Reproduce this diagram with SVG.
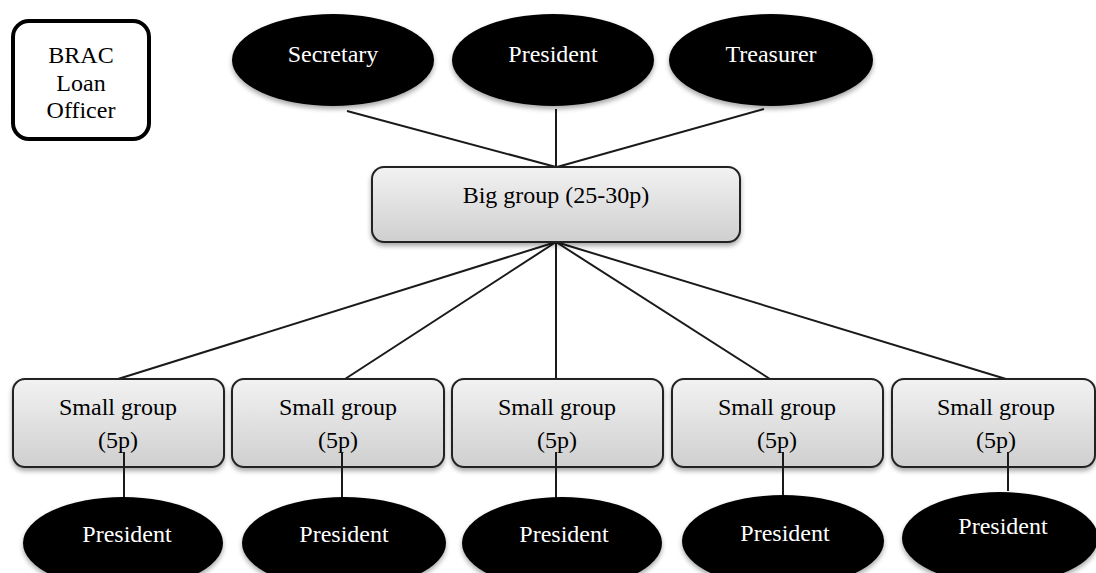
<svg xmlns="http://www.w3.org/2000/svg" width="1096" height="573" viewBox="0 0 1096 573">
<defs>
<linearGradient id="gbox" x1="0" y1="0" x2="0" y2="1">
<stop offset="0" stop-color="#f2f2f2"/>
<stop offset="1" stop-color="#cfcfcf"/>
</linearGradient>
<filter id="sh" x="-20%" y="-20%" width="140%" height="150%">
<feGaussianBlur in="SourceAlpha" stdDeviation="2.5"/>
<feOffset dx="0" dy="3" result="b"/>
<feComponentTransfer><feFuncA type="linear" slope="0.35"/></feComponentTransfer>
<feMerge><feMergeNode/><feMergeNode in="SourceGraphic"/></feMerge>
</filter>
</defs>
<style>
.ell{fill:#000;filter:url(#sh)}
.wt{fill:#fff;font-family:"Liberation Serif",serif;font-size:24px;text-anchor:middle}
.bt{fill:#000;font-family:"Liberation Serif",serif;font-size:24px;text-anchor:middle}
.box{fill:url(#gbox);stroke:#222;stroke-width:2;filter:url(#sh)}
.ln{stroke:#1a1a1a;stroke-width:2;fill:none}
</style>
<rect width="1096" height="573" fill="#fff"/>
<g id="brac">
<rect x="13" y="21" width="136" height="118" rx="16" fill="#fff" stroke="#000" stroke-width="4"/>
<text class="bt" x="81" y="63">BRAC</text>
<text class="bt" x="81" y="91">Loan</text>
<text class="bt" x="81" y="118">Officer</text>
</g>
<g id="connectors">
<line class="ln" x1="347" y1="111" x2="556" y2="167"/>
<line class="ln" x1="556" y1="109" x2="556" y2="167"/>
<line class="ln" x1="764" y1="109" x2="557" y2="167"/>
<line class="ln" x1="556" y1="242" x2="118" y2="379"/>
<line class="ln" x1="556" y1="242" x2="345" y2="379"/>
<line class="ln" x1="556" y1="242" x2="556" y2="379"/>
<line class="ln" x1="556" y1="242" x2="770" y2="379"/>
<line class="ln" x1="556" y1="242" x2="1006" y2="379"/>
</g>
<g id="secretary">
<ellipse class="ell" cx="333" cy="60" rx="101" ry="46"/>
<text class="wt" x="333" y="62">Secretary</text>
</g>
<g id="president-top">
<ellipse class="ell" cx="553" cy="60" rx="101" ry="46"/>
<text class="wt" x="553" y="62">President</text>
</g>
<g id="treasurer">
<ellipse class="ell" cx="771" cy="60" rx="102" ry="46"/>
<text class="wt" x="771" y="62">Treasurer</text>
</g>
<g id="big-group">
<rect class="box" x="372" y="167" width="368" height="75" rx="12"/>
<text class="bt" x="556" y="203">Big group (25-30p)</text>
</g>
<g id="small-group-1">
<rect class="box" x="13" y="379" width="211" height="88" rx="12"/>
<text class="bt" x="118" y="415">Small group</text>
<text class="bt" x="118" y="448">(5p)</text>
</g>
<g id="small-group-2">
<rect class="box" x="232" y="379" width="212" height="88" rx="12"/>
<text class="bt" x="338" y="415">Small group</text>
<text class="bt" x="338" y="448">(5p)</text>
</g>
<g id="small-group-3">
<rect class="box" x="452" y="379" width="211" height="88" rx="12"/>
<text class="bt" x="557" y="415">Small group</text>
<text class="bt" x="557" y="448">(5p)</text>
</g>
<g id="small-group-4">
<rect class="box" x="672" y="379" width="211" height="88" rx="12"/>
<text class="bt" x="777" y="415">Small group</text>
<text class="bt" x="777" y="448">(5p)</text>
</g>
<g id="small-group-5">
<rect class="box" x="892" y="379" width="203" height="88" rx="12"/>
<text class="bt" x="996" y="415">Small group</text>
<text class="bt" x="996" y="448">(5p)</text>
</g>
<g id="sub-connectors">
<line class="ln" x1="124" y1="452" x2="124" y2="498"/>
<line class="ln" x1="342" y1="452" x2="342" y2="498"/>
<line class="ln" x1="556" y1="452" x2="556" y2="498"/>
<line class="ln" x1="783" y1="452" x2="783" y2="496"/>
<line class="ln" x1="1008" y1="452" x2="1008" y2="491"/>
</g>
<g id="president-1">
<ellipse class="ell" cx="123" cy="543" rx="100" ry="46"/>
<text class="wt" x="127" y="542">President</text>
</g>
<g id="president-2">
<ellipse class="ell" cx="344" cy="543" rx="102" ry="46"/>
<text class="wt" x="344" y="542">President</text>
</g>
<g id="president-3">
<ellipse class="ell" cx="562" cy="543" rx="100" ry="46"/>
<text class="wt" x="564" y="542">President</text>
</g>
<g id="president-4">
<ellipse class="ell" cx="783" cy="541" rx="101" ry="46"/>
<text class="wt" x="785" y="541">President</text>
</g>
<g id="president-5">
<ellipse class="ell" cx="1000" cy="538" rx="98" ry="46"/>
<text class="wt" x="1003" y="534">President</text>
</g>
</svg>
